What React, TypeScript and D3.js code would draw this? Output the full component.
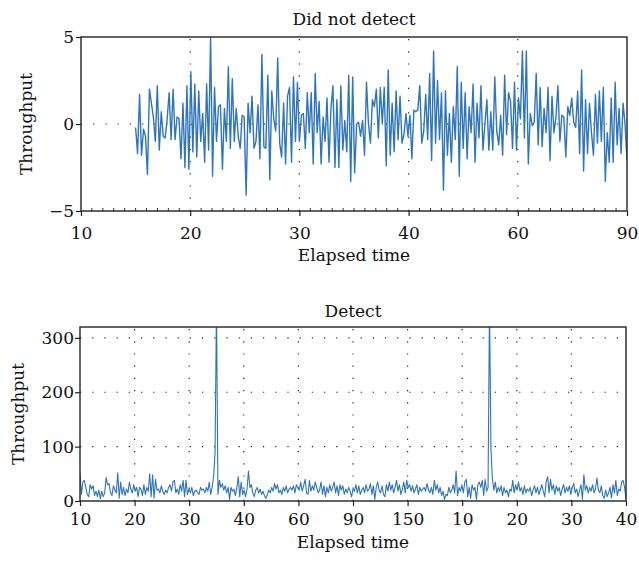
import React, { useEffect, useRef } from 'react';
import * as d3 from 'd3';

// tick labels (evenly spaced positions, labels as printed)
const notDetectTickLabels = ['10', '20', '30', '40', '60', '90'];
const detectTickLabels = ['10', '20', '30', '40', '60', '90', '150', '10', '20', '30', '40'];
const notDetectYTicks = [-5, 0, 5];
const detectYTicks = [0, 100, 200, 300];

// series starts halfway into the first interval ("15") and runs to "90"
const notDetectStart = 0.5;

const notDetectValues = [
  -0.2, -1.7, 1.7, -1.8, -0.3, -0.7, -2.9, 2.0, 1.2, 0.4, -1.0, 2.2, -1.5, 0.7, -0.7, -0.8, 0.3, 1.8, -0.9, 2.0, -0.9, 0.4, 0.3,
  -2.0, 1.2, -2.5, 2.2, -2.6, 3.0, -1.6, 2.3, -1.9, 1.9, -1.0, 0.6, -2.2, 2.3, -1.5, 5.0, -3.0, 2.1, -1.0, 1.0, 1.1, -2.6,
  0.9, -1.0, 3.3, -1.4, 2.6, -1.0, 0.9, -0.7, -1.4, 0.5, 0.4, -4.1, 1.2, -0.5, 1.6, -1.4, -1.0, 1.1, -2.0, 4.0, -1.3, -1.4,
  2.8, -3.2, 1.9, 0.3, -0.4, 3.8, -1.1, -1.9, 1.2, -2.3, 1.6, 2.1, -2.2, 2.7, -1.0, 2.4, -1.0, 0.5, 0.6, -1.4, 1.8, -0.5,
  1.8, -2.3, 2.9, -0.5, 1.3, -2.3, 0.4,
  -1.0, 1.5, -2.2, 0.9,
  2.2, -2.5, 1.4, -2.5, 2.2, -1.5, 0.2, -1.6, 2.8, -3.3,
  2.7, -2.8, 0.0, 0.1, -0.7, 0.2, -1.8, 2.4, 0.0, -1.1,
  1.4, 1.0, 2.0, -0.8, 2.1, 0.0, 2.1, -2.4, 3.1, -1.8,
  1.2, -1.6, 1.9, -0.9, 1.6, -1.1, -0.6, 0.6, -0.7, 0.5,
  -2.0, 0.8, 0.7, 0.8, 2.2, -1.1, -0.4, 1.7, -0.9, 2.9,
  -2.1, 4.2, -1.1, 2.5, -0.9, 1.8, -3.8, 1.9, -1.8, 0.6,
  -2.2, 1.0, -0.9, 3.3, -3.0, 2.4, -1.4, 1.8, -2.0, 1.0,
  -0.5, 2.3, -2.2, 1.2, -0.8, 2.2, -1.5, 0.0, 1.4, -1.5,
  0.7, -1.5, 2.7, -0.4, -1.2, 0.5, -1.8, 2.8, -0.6, 1.8,
  1.3, -1.4, 2.4, -1.5, 1.5, 0.3, 4.2, -0.8, 4.2, -2.3,
  0.6, -0.1, 0.1, 2.9, -1.2, 2.1, -1.3, 0.9, -0.5, 2.1,
  -2.1, 1.6, -0.5, 0.4, 2.2, -1.0, 0.5, 0.4, -1.9, 1.0,
  0.5, 1.5, 0.1, -0.2, 1.9, -1.7, 3.1, -2.7, 1.4, -1.7,
  1.2, -0.5, -1.8, 1.7, -1.1, 1.9, -1.0, 2.1, -3.3, -0.5,
  -2.2, 1.5, -2.2, 2.4, -1.2, 0.9, -1.7, 1.2, 0.0, -2.1
];

const detectValues = [
  52, 12, 35, 38, 25, 12, 8, 30, 22, 28, 10, 18, 8, 20, 4, 18, 8, 15, 43, 30,
  32, 15, 10, 28, 20, 15, 52, 5, 35, 12, 25, 10, 22, 15, 35, 22, 15, 30, 18, 25,
  8, 25, 22, 10, 30, 12, 25, 18, 50, 8, 48, 5, 40, 20, 22, 15, 28, 18, 12, 20,
  15, 25, 30, 18, 35, 38, 15, 22, 12, 30, 18, 38, 8, 38, 12, 22, 15, 25, 10, 18,
  20, 15, 12, 25, 20, 22, 15, 25, 18, 35, 12, 25, 45, 88,
  360,
  12, 38, 25, 32, 20, 28, 15, 25, 3, 25, 18, 22, 10, 25, 45, 8, 35, 12, 20, 8,
  22, 55, 25, 30, 15, 8, 20, 25, 15, 22, 12, 18, 10, 5, 12, 20, 15, 25, 18, 32,
  22, 30, 15, 20, 12, 25, 18, 28, 15, 22, 25, 20, 28, 15, 30, 25, 20, 35, 18, 28,
  40, 15, 12, 38, 18, 28, 20, 35, 25, 15,
  20, 35, 12, 28, 8, 25, 15, 30, 18, 25, 35, 15, 28, 10, 30, 20, 28, 12, 22, 15,
  25, 18, 8, 22, 18, 30, 15, 28, 12, 20, 25, 15, 30, 18, 22, 32, 12, 28, 3, 25,
  35, 20, 15, 28, 12, 8, 30, 18, 35, 20, 30, 15, 25, 38, 18, 30, 12, 22, 35, 15,
  38, 25, 30, 18, 28, 15, 22, 30, 12, 25, 18, 22, 25, 18,
  32, 20, 15, 25, 12, 38, 20, 30, 15, 25, 10, 18, 3, 12, 10,
  25, 15, 20, 30, 15, 55, 10, 25, 18, 30, 15, 35, 40, 8, 25, 5, 30, 20, 25, 3,
  30, 35, 25, 38, 10, 40, 18, 25,
  360,
  95, 40,
  20, 35, 15, 25, 18, 28, 10, 25, 15, 20, 8, 22, 18,
  38, 15, 30, 20, 35, 18, 25, 12, 28, 15, 22, 18, 25, 10, 20, 28, 15, 25, 12, 20,
  30, 18, 8, 35, 45, 15, 40, 20, 30, 12, 28, 18, 25, 10, 22, 30, 15, 25, 18, 28,
  12, 25, 32, 15, 22, 8, 20, 30, 3, 48, 20, 28, 15, 25, 18, 30, 15, 22, 42, 20,
  15, 28, 10, 5, 20, 8, 15, 25, 5, 30, 15, 38, 10, 22, 18, 35, 38, 25, 5
];

const LINE_COLOR = '#2f75b9';
const FONT = '"DejaVu Serif", serif';

const fmtMinus = d => (d < 0 ? `\u2212${-d}` : `${d}`);

function drawPanel(svg, p) {
  const g = svg.append('g');
  const nInt = p.tickLabels.length - 1;

  const x = d3.scaleLinear().domain([0, nInt]).range([p.left, p.right]);
  const y = d3.scaleLinear().domain(p.yDomain).range([p.bottom, p.top]);

  // dotted grid
  p.hGrid.forEach(v => {
    g.append('line')
      .attr('x1', p.left).attr('x2', p.right)
      .attr('y1', y(v)).attr('y2', y(v))
      .attr('stroke', '#222').attr('stroke-width', 1.2)
      .attr('stroke-dasharray', '1.2 11');
  });
  d3.range(1, nInt).forEach(i => {
    g.append('line')
      .attr('x1', x(i)).attr('x2', x(i))
      .attr('y1', p.bottom).attr('y2', p.top)
      .attr('stroke', '#222').attr('stroke-width', 1.2)
      .attr('stroke-dasharray', '1.2 11');
  });

  // data line, clipped to the plot box
  const clipId = `clip-${p.id}`;
  svg.append('clipPath').attr('id', clipId)
    .append('rect')
    .attr('x', p.left).attr('y', p.top)
    .attr('width', p.right - p.left).attr('height', p.bottom - p.top);

  const n = p.values.length;
  const xAt = i => p.xStart + (nInt - p.xStart) * i / (n - 1);
  const line = d3.line()
    .x((d, i) => x(xAt(i)))
    .y(d => y(d));

  g.append('path')
    .datum(p.values)
    .attr('clip-path', `url(#${clipId})`)
    .attr('fill', 'none')
    .attr('stroke', LINE_COLOR)
    .attr('stroke-width', p.lineWidth)
    .attr('stroke-linejoin', 'round')
    .attr('d', line);

  // minor ticks (inside) on bottom axis
  if (p.minor) {
    d3.range(0, nInt).forEach(i => {
      d3.range(1, 10).forEach(k => {
        const xx = x(i + k / 10);
        g.append('line')
          .attr('x1', xx).attr('x2', xx)
          .attr('y1', p.bottom).attr('y2', p.bottom - 3)
          .attr('stroke', '#333').attr('stroke-width', 1);
      });
    });
  }

  // axes
  const xAxis = d3.axisBottom(x)
    .tickValues(d3.range(0, nInt + 1))
    .tickFormat(i => p.tickLabels[i])
    .tickSizeInner(5).tickSizeOuter(0)
    .tickPadding(p.xPad);
  const gx = g.append('g')
    .attr('transform', `translate(0,${p.bottom})`)
    .call(xAxis);

  const yAxis = d3.axisLeft(y)
    .tickValues(p.yTicks)
    .tickFormat(fmtMinus)
    .tickSizeInner(5).tickSizeOuter(0)
    .tickPadding(p.yPad);
  const gy = g.append('g')
    .attr('transform', `translate(${p.left},0)`)
    .call(yAxis);

  [gx, gy].forEach(ax => {
    ax.select('.domain').remove();
    ax.selectAll('.tick line').attr('stroke', '#222').attr('stroke-width', 1.2);
    ax.selectAll('text')
      .attr('fill', '#111')
      .style('font-family', FONT)
      .style('font-size', '17px');
  });

  // frame
  g.append('rect')
    .attr('x', p.left).attr('y', p.top)
    .attr('width', p.right - p.left).attr('height', p.bottom - p.top)
    .attr('fill', 'none')
    .attr('stroke', '#222')
    .attr('stroke-width', 1.4);

  // title and labels
  const cx = (p.left + p.right) / 2;
  g.append('text')
    .attr('x', cx).attr('y', p.titleY)
    .attr('text-anchor', 'middle')
    .style('font-family', FONT).style('font-size', '17px')
    .attr('fill', '#111')
    .text(p.title);

  g.append('text')
    .attr('x', cx).attr('y', p.xLabelY)
    .attr('text-anchor', 'middle')
    .style('font-family', FONT).style('font-size', '17px')
    .attr('fill', '#111')
    .text('Elapsed time');

  g.append('text')
    .attr('transform', `translate(${p.yLabelX},${(p.top + p.bottom) / 2}) rotate(-90)`)
    .attr('text-anchor', 'middle')
    .style('font-family', FONT).style('font-size', '17px')
    .attr('fill', '#111')
    .text('Throughput');
}

export default function App() {
  const svgRef = useRef(null);

  useEffect(() => {
    const svg = d3.select(svgRef.current);
    svg.selectAll('*').remove();

    drawPanel(svg, {
      id: 'top',
      left: 81, right: 627, top: 37, bottom: 211,
      yDomain: [-5, 5],
      yTicks: notDetectYTicks,
      tickLabels: notDetectTickLabels,
      values: notDetectValues,
      xStart: notDetectStart,
      hGrid: [0],
      minor: true,
      lineWidth: 1.4,
      xPad: 11, yPad: 2,
      title: 'Did not detect', titleY: 25,
      xLabelY: 261, yLabelX: 32
    });

    drawPanel(svg, {
      id: 'bottom',
      left: 80, right: 626, top: 327, bottom: 501,
      yDomain: [0, 320],
      yTicks: detectYTicks,
      tickLabels: detectTickLabels,
      values: detectValues,
      xStart: 0,
      hGrid: [100, 200, 300],
      minor: false,
      lineWidth: 1.1,
      xPad: 7, yPad: 1,
      title: 'Detect', titleY: 317,
      xLabelY: 548, yLabelX: 24
    });
  }, []);

  return (
    <svg
      ref={svgRef}
      width={639}
      height={561}
      style={{ position: 'absolute', left: 0, top: 0, background: '#fff' }}
    />
  );
}
